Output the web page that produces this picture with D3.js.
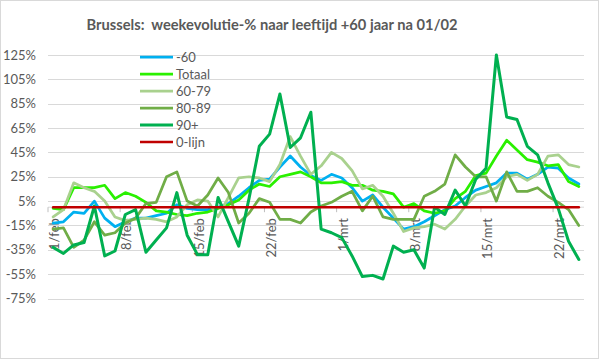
<!DOCTYPE html>
<html><head><meta charset="utf-8">
<script src="https://cdn.jsdelivr.net/npm/d3@7"></script>
<style>body{margin:0;background:#fff}svg{display:block}text{font-family:Lato,"Liberation Sans",sans-serif;fill:#595959}</style>
</head><body><svg id="c" width="599" height="359"></svg>
<script>
const categories=["1/feb","2/feb","3/feb","4/feb","5/feb","6/feb","7/feb","8/feb","9/feb","10/feb","11/feb","12/feb","13/feb","14/feb","15/feb","16/feb","17/feb","18/feb","19/feb","20/feb","21/feb","22/feb","23/feb","24/feb","25/feb","26/feb","27/feb","28/feb","1/mrt","2/mrt","3/mrt","4/mrt","5/mrt","6/mrt","7/mrt","8/mrt","9/mrt","10/mrt","11/mrt","12/mrt","13/mrt","14/mrt","15/mrt","16/mrt","17/mrt","18/mrt","19/mrt","20/mrt","21/mrt","22/mrt","23/mrt","24/mrt"];
const xTickLabels=["1/feb","8/feb","15/feb","22/feb","1/mrt","8/mrt","15/mrt","22/mrt"];
const yTicks=[125,105,85,65,45,25,5,-15,-35,-55,-75];
const min60=[-13,-12,-4,-5,5,-9,-16,-12,-9,-9,-7,-5,2,-1,-2,-2,0,3,9,16,22,23,33,42,33,26,22,27,24,16,5,10,0,-9,-18,-16,-12,-7,-2,1,8,14,17,20,28,28,23,27,33,32,24,19];
const totaal=[-1,-2,16,16,16,18,7,12,9,4,-3,-4,-6,-7,-5,-4,-1,2,6,14,19,17,25,27,29,25,20,20,21,18,18,14,13,11,0,3,-3,-5,-3,7,13,26,28,42,55,47,39,37,34,35,21,17];
const p6079=[-8,-2,20,16,13,5,-8,-11,-10,-9,-10,-12,-8,2,6,5,-8,8,24,25,24,21,35,58,42,27,34,45,40,30,15,18,9,-5,-20,-17,-16,-14,-18,-10,1,10,12,16,25,27,22,27,42,43,35,33];
const p8089=[-18,-17,-33,-27,-12,-23,-21,-13,-9,3,4,25,29,5,1,10,24,12,-13,-5,7,4,-10,-10,-13,-4,1,4,9,13,-3,9,-8,-10,-10,-10,9,13,19,43,33,25,25,5,29,13,13,16,9,4,-2,-15];
const p90=[-33,-38,-31,-29,1,-40,-36,-6,-2,-37,-27,-17,12,-23,-39,-39,8,-12,-32,7,50,60,93,49,57,78,-18,-21,-25,-40,-57,-56,-59,-32,-37,-35,-50,0,-6,14,1,23,32,125,74,72,50,43,20,-1,-28,-43];
const nulLijn=categories.map(()=>0);
const seriesNames=["-60","Totaal","60-79","80-89","90+","0-lijn"];
const seriesValues=[min60,totaal,p6079,p8089,p90,nulLijn];
const seriesColors=["#00b0f0","#2af000","#a9d18e","#70ad47","#00b050","#c00000"];
const seriesWidths=[2.75,2.75,2.75,2.75,3,2.5];

const svg=d3.select("#c");
svg.append("rect").attr("x",0.5).attr("y",0.5).attr("width",598).attr("height",358).attr("fill","#fff").attr("stroke","#d9d9d9");
const L=48,R=584;
const x=d3.scalePoint().domain(categories).range([L,R]).padding(0.5);
const y=d3.scaleLinear().domain([-75,125]).range([298.5,55]);

svg.append("text").attr("x",272).attr("y",30).attr("text-anchor","middle")
  .style("font-size","15px").style("font-weight","bold").style("white-space","pre")
  .attr("xml:space","preserve")
  .attr("textLength",371).attr("lengthAdjust","spacingAndGlyphs")
  .text("Brussels:  weekevolutie-% naar leeftijd +60 jaar na 01/02");

const ga=svg.append("g").attr("transform",`translate(${L},0)`)
  .call(d3.axisLeft(y).tickValues(yTicks).tickSize(-(R-L)).tickPadding(12).tickFormat(d=>d+"%"));
ga.select(".domain").remove();
ga.selectAll("line").attr("stroke","#d9d9d9").attr("shape-rendering","crispEdges");
ga.selectAll("text").style("font-size","13px").style("font-family","Lato").attr("fill","#595959");

const y0=y(0);
svg.append("line").attr("x1",L).attr("x2",R).attr("y1",y0).attr("y2",y0).attr("stroke","#d9d9d9");
svg.selectAll(".tk").data(xTickLabels).enter().append("line")
  .attr("x1",d=>x(d)-x.step()/2).attr("x2",d=>x(d)-x.step()/2)
  .attr("y1",y0).attr("y2",y0+5).attr("stroke","#bfbfbf");
const gx=svg.append("g").attr("transform",`translate(0,${y0})`)
  .call(d3.axisBottom(x).tickValues(xTickLabels).tickSize(0));
gx.select(".domain").remove();
gx.selectAll("text").attr("transform","rotate(-90)").attr("x",-11).attr("y",1).attr("dy","0.35em")
  .attr("text-anchor","end").style("font-size","13px").style("font-family","Lato").attr("fill","#595959");

const line=d3.line().x((d,i)=>x(categories[i])).y(d=>y(d));
seriesValues.forEach((vals,k)=>{
  svg.append("path").datum(vals).attr("d",line).attr("fill","none")
    .attr("stroke",seriesColors[k]).attr("stroke-width",seriesWidths[k])
    .attr("stroke-linejoin","round").attr("stroke-linecap","round");
});

const lg=svg.append("g");
seriesNames.forEach((n,k)=>{
  const yy=57+k*17;
  lg.append("line").attr("x1",140).attr("x2",173).attr("y1",yy).attr("y2",yy)
    .attr("stroke",seriesColors[k]).attr("stroke-width",seriesWidths[k]);
  lg.append("text").attr("x",176).attr("y",yy).attr("dy","0.35em").style("font-size","13px").text(n);
});
</script></body></html>
